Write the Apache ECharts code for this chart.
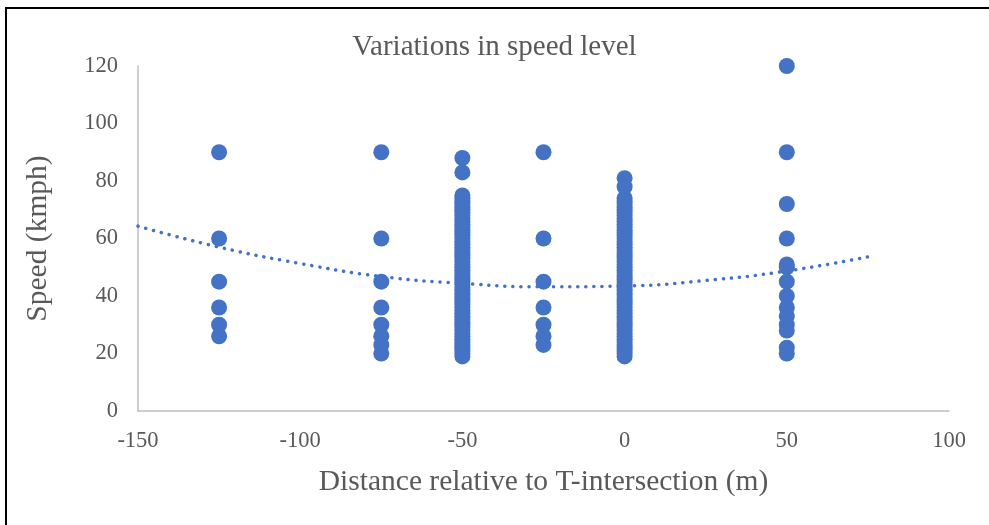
<!DOCTYPE html>
<html>
<head>
<meta charset="utf-8">
<script src="https://cdn.jsdelivr.net/npm/echarts@6/dist/echarts.min.js"></script>
<style>
html,body{margin:0;padding:0;background:#fff;overflow:hidden;}
#frame{position:absolute;left:5px;top:7px;width:1000px;height:600px;border:2px solid #000;box-sizing:border-box;}
#chart{position:absolute;left:0;top:0;width:989px;height:525px;}
</style>
</head>
<body>
<div id="frame"></div>
<div id="chart"></div>
<script>
var title = "Variations in speed level";
var xName = "Distance relative to T-intersection (m)";
var yName = "Speed (kmph)";

var speedsM125 = [90, 60, 45, 36, 30, 26];
var speedsM75 = [90, 60, 45, 36, 30, 26, 23, 20];
var speedsM50 = [88, 83, 75, 74, 73, 72, 71, 70, 69, 68, 67, 66, 65, 64, 63, 62, 61, 60, 59, 58, 57, 56, 55, 54, 53, 52, 51, 50, 49, 48, 47, 46, 45, 44, 43, 42, 41, 40, 39, 38, 37, 36, 35, 34, 33, 32, 31, 30, 29, 28, 27, 26, 25, 24, 23, 22, 21, 20, 19];
var speedsM25 = [90, 60, 45, 36, 30, 26, 23];
var speeds0 = [81, 78, 74, 73, 72, 71, 70, 69, 68, 67, 66, 65, 64, 63, 62, 61, 60, 59, 58, 57, 56, 55, 54, 53, 52, 51, 50, 49, 48, 47, 46, 45, 44, 43, 42, 41, 40, 39, 38, 37, 36, 35, 34, 33, 32, 31, 30, 29, 28, 27, 26, 25, 24, 23, 22, 21, 20, 19];
var speeds50 = [120, 90, 72, 60, 51, 50, 45, 40, 36, 33, 30, 28, 22, 20];

var trendX = [-150, -125, -100, -75, -50, -25, 0, 25, 50, 75];
var trendY = [64.3, 57.0, 51.3, 46.8, 44.4, 43.2, 43.5, 45.4, 48.7, 53.6];

var groups = [[-125, speedsM125], [-75, speedsM75], [-50, speedsM50], [-25, speedsM25], [0, speeds0], [50, speeds50]];
var points = [];
groups.forEach(function (g) { g[1].forEach(function (v) { points.push([g[0], v]); }); });
var trend = trendX.map(function (x, i) { return [x, trendY[i]]; });

var serif = "'Liberation Serif', 'Times New Roman', serif";
var chart = echarts.init(document.getElementById('chart'));
chart.setOption({
  animation: false,
  title: {
    text: title, left: 'center', top: 28,
    textStyle: { fontFamily: serif, fontSize: 29, fontWeight: 'normal', color: '#595959' }
  },
  grid: { left: 138, right: 40, top: 66, bottom: 114 },
  xAxis: {
    type: 'value', min: -150, max: 100, interval: 50,
    name: xName, nameLocation: 'middle', nameGap: 56,
    nameTextStyle: { fontFamily: serif, fontSize: 29.5, color: '#595959' },
    axisLine: { show: true, onZero: false, lineStyle: { color: '#bfbfbf', width: 1.5 } },
    axisTick: { show: false },
    splitLine: { show: false },
    axisLabel: { fontFamily: serif, fontSize: 22.5, color: '#595959', margin: 19 }
  },
  yAxis: {
    type: 'value', min: 0, max: 120, interval: 20,
    name: yName, nameLocation: 'middle', nameGap: 85,
    nameTextStyle: { fontFamily: serif, fontSize: 29.5, color: '#595959' },
    axisLine: { show: true, onZero: false, lineStyle: { color: '#bfbfbf', width: 1.5 } },
    axisTick: { show: false },
    splitLine: { show: false },
    axisLabel: { fontFamily: serif, fontSize: 22.5, color: '#595959', margin: 20 }
  },
  series: [
    {
      type: 'scatter', data: points, symbolSize: 16,
      itemStyle: { color: '#4472C4', opacity: 1 }
    },
    {
      type: 'line', data: trend, smooth: true, showSymbol: false, symbol: 'none',
      lineStyle: { color: '#4472C4', width: 3.5, type: [0.1, 8], cap: 'round' },
      z: 3
    }
  ]
});
</script>
</body>
</html>
